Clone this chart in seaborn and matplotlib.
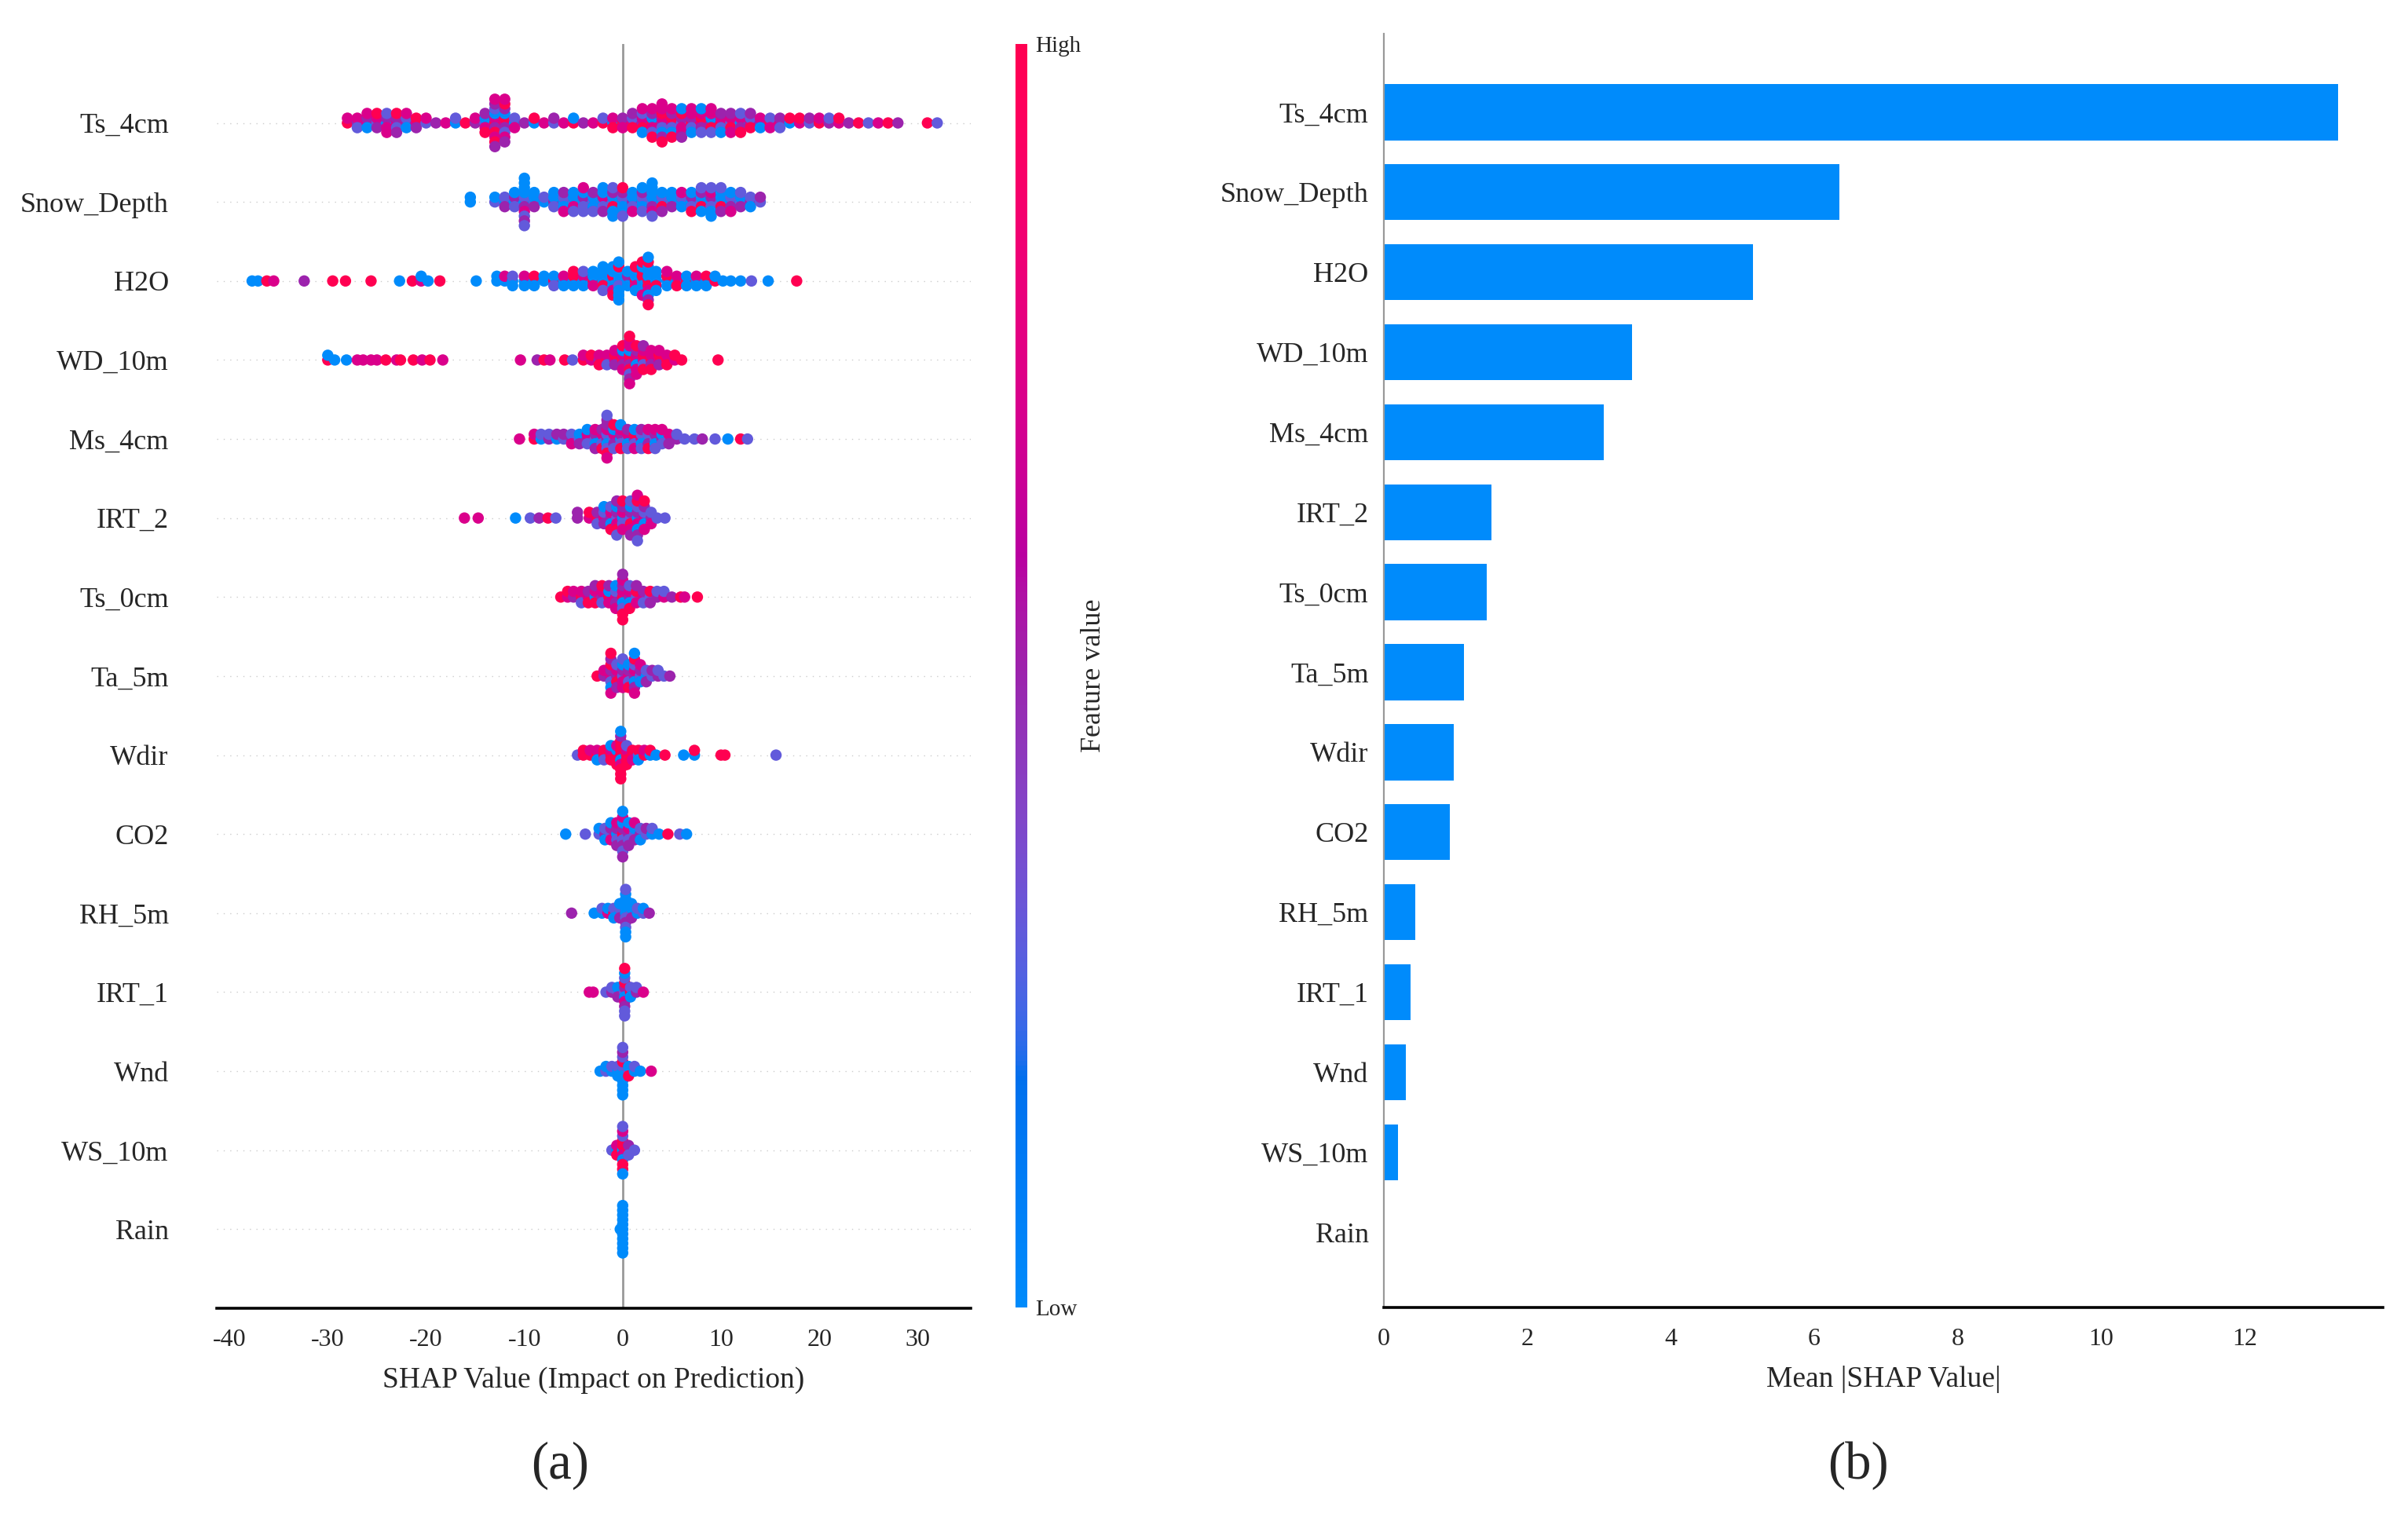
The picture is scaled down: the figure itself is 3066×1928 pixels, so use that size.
import numpy as np
import pandas as pd
import seaborn as sns
import matplotlib.pyplot as plt
from matplotlib.colors import LinearSegmentedColormap, Normalize
from matplotlib.cm import ScalarMappable


## Donnees

features = ["Ts_4cm", "Snow_Depth", "H2O", "WD_10m", "Ms_4cm", "IRT_2", "Ts_0cm",
            "Ta_5m", "Wdir", "CO2", "RH_5m", "IRT_1", "Wnd", "WS_10m", "Rain"]

mean_abs_shap = [13.31, 6.35, 5.15, 3.46, 3.07, 1.50, 1.43, 1.12, 0.97, 0.92,
                 0.44, 0.37, 0.31, 0.20, 0.01]

# beeswarm : (valeur SHAP, une lettre par point = niveau de la variable)
# b = bas, v = bas-moyen, p = moyen, m = moyen-haut, r = haut
ts_4cm = [(-28, "rm"), (-27, "pmv"), (-26, "mpbm"), (-25, "vmpr"), (-24, "bpmvm"),
          (-23, "mpvrp"), (-22, "pvbm"), (-21, "mrp"), (-20, "vm"), (-19, "p"),
          (-18, "m"), (-17, "bv"), (-16, "r"), (-15, "pm"), (-14, "vbmpr"),
          (-13, "rmpbrvmprmp"), (-12, "mrpbvpmrpm"), (-11, "bvm"), (-10, "p"),
          (-9, "br"), (-8, "m"), (-7, "vp"), (-6, "m"), (-5, "rb"), (-4, "p"),
          (-3, "m"), (-2, "rv"), (-1, "bmr"), (0, "rpm"), (1, "mvrp"), (2, "pmrvbm"),
          (3, "rbmpvmr"), (4, "pmvrbmpmr"), (5, "mrvpbmr"), (6, "vpmrmbp"),
          (7, "rpvmbm"), (8, "mrpmvb"), (9, "pbrmvm"), (10, "rmvpb"), (11, "vmrpm"),
          (12, "bmpvr"), (13, "mvrp"), (14, "pmb"), (15, "rvm"), (16, "mpv"),
          (17, "br"), (18, "mr"), (19, "vp"), (20, "rm"), (21, "pv"), (22, "mr"),
          (23, "p"), (24, "r"), (25, "v"), (26, "m"), (27, "r"), (28, "p"),
          (31, "r"), (32, "v")]

snow_depth = [(-15.5, "bb"), (-13, "vb"), (-12, "bvp"), (-11, "bpvb"),
              (-10, "bvpbmbvbpbv"), (-9, "vbpb"), (-8, "bv"), (-7, "pbvb"),
              (-6, "bvbpm"), (-5, "vbmbv"), (-4, "bpvbvm"), (-3, "vbbpv"),
              (-2, "bmvbpb"), (-1, "vbrpbvb"), (0, "bvbpbrv"), (1, "pbvbm"),
              (2, "bvbpvb"), (3, "vbpbmbvb"), (4, "bvrbp"), (5, "vbpb"), (6, "bvbm"),
              (7, "bpvbr"), (8, "vbrpbv"), (9, "bpvmbvb"), (10, "vbrbpv"),
              (11, "bvpbm"), (12, "vbpv"), (13, "pvb"), (14, "vp")]

h2o = [(-37.7, "b"), (-37.1, "b"), (-36.2, "r"), (-35.5, "m"), (-32.4, "p"),
       (-29.5, "r"), (-28.2, "r"), (-25.6, "r"), (-22.7, "b"), (-21.4, "r"),
       (-20.5, "mb"), (-19.8, "b"), (-18.6, "r"), (-14.9, "b"), (-12.8, "bb"),
       (-12, "bm"), (-11.2, "bvb"), (-10, "bmb"), (-9, "brb"), (-8, "bb"),
       (-7, "rbv"), (-6, "bmb"), (-5, "brbr"), (-4, "bmbv"), (-3, "rbmb"),
       (-2, "bbrbvb"), (-1, "brbbmbr"), (-0.4, "bbvbbrbbb"), (0.5, "bpbb"),
       (1.3, "rbmbbr"), (2, "brbrbbmr"), (2.6, "rbrbmbbrpbr"), (3.4, "bbrbb"),
       (4.5, "brbm"), (5.5, "bmr"), (6.5, "rbb"), (7.5, "bmb"), (8.5, "brb"),
       (9.4, "rb"), (10.2, "b"), (11, "b"), (12, "b"), (13.1, "v"), (14.8, "b"),
       (17.7, "r")]

wd_10m = [(-30, "rb"), (-29.3, "b"), (-28.1, "b"), (-27, "m"), (-26.4, "m"),
          (-25.6, "m"), (-25, "m"), (-24.1, "r"), (-23, "m"), (-22.6, "r"),
          (-21.3, "r"), (-20.4, "m"), (-19.6, "r"), (-18.3, "m"), (-10.4, "m"),
          (-8.7, "p"), (-8, "r"), (-7.4, "m"), (-5.9, "r"), (-5.1, "v"), (-4, "rm"),
          (-3.2, "mr"), (-2.4, "pmr"), (-1.6, "rmv"), (-0.8, "mrpm"), (0, "rmpbmr"),
          (0.7, "mrpbrmvmprm"), (1.4, "rmbpmrm"), (2.1, "mrvmrp"), (2.9, "rmpmr"),
          (3.7, "mrpm"), (4.5, "rmr"), (5.3, "mr"), (6, "r"), (9.7, "r")]

ms_4cm = [(-10.5, "m"), (-9, "rm"), (-8.3, "bv"), (-7.5, "pv"), (-6.7, "bp"),
          (-6, "vp"), (-5.2, "pvm"), (-4.4, "vbp"), (-3.6, "pmvb"), (-2.8, "vpbmp"),
          (-2.1, "bmvpr"), (-1.6, "pvbmvprpmv"), (-0.9, "vmpbvr"), (-0.2, "bpvmrb"),
          (0.5, "vmbpv"), (1.2, "prvbm"), (1.9, "mvbpv"), (2.6, "bvpmr"),
          (3.3, "vpbmv"), (4, "pbvm"), (4.7, "vmp"), (5.5, "pv"), (6.3, "v"),
          (7.3, "v"), (8.1, "p"), (9.4, "v"), (10.7, "b"), (12, "r"), (12.7, "v")]

irt_2 = [(-16.1, "m"), (-14.7, "m"), (-10.9, "b"), (-9.4, "v"), (-8.5, "p"),
         (-7.6, "r"), (-6.8, "v"), (-4.6, "pp"), (-3.4, "mr"), (-2.6, "rpv"),
         (-1.9, "mvpb"), (-1.2, "pmbvr"), (-0.6, "vpmbrpv"), (0, "bmvpmr"),
         (0.8, "vprbmvp"), (1.5, "bpmvbrpmv"), (2.2, "mvbpmr"), (2.9, "pvm"),
         (3.5, "v"), (4.3, "v")]

ts_0cm = [(-6.3, "r"), (-5.6, "mr"), (-5, "pm"), (-4.2, "rmv"), (-3.5, "mpr"),
          (-2.8, "bmrp"), (-2.1, "pmvr"), (-1.4, "rbmp"), (-0.7, "mvpbm"),
          (0, "rmbpvmrpr"), (0.7, "pmbvr"), (1.4, "vrmp"), (2.1, "mpv"), (2.8, "vrp"),
          (3.5, "pv"), (4.2, "mv"), (5, "p"), (5.9, "r"), (6.3, "m"), (7.6, "r")]

ta_5m = [(-2.6, "r"), (-1.9, "pm"), (-1.2, "mpvrbpmr"), (-0.6, "pmrvp"),
         (0, "vpmbmv"), (0.6, "mpvbr"), (1.2, "pmbvprmb"), (1.8, "vpbm"),
         (2.4, "bvp"), (3, "vp"), (3.6, "pv"), (4.2, "v"), (4.8, "p")]

wdir = [(-4.6, "v"), (-4, "rr"), (-3.3, "rm"), (-2.6, "rmb"), (-1.9, "rrv"),
        (-1.2, "rmrb"), (-0.6, "rbrmr"), (-0.2, "rrbrmrrprbr"), (0.4, "rmrvr"),
        (1, "rrm"), (1.6, "vrb"), (2.2, "rm"), (2.8, "br"), (3.4, "b"), (4.3, "r"),
        (6.2, "b"), (7.3, "br"), (10, "r"), (10.4, "r"), (15.6, "v")]

co2 = [(-5.8, "b"), (-3.8, "v"), (-2.4, "vb"), (-1.8, "pvb"), (-1.2, "vpmb"),
       (-0.6, "bpvmp"), (0, "rpvbpmvbp"), (0.6, "pmvbp"), (1.2, "vbpm"),
       (1.8, "pvb"), (2.4, "vp"), (3, "bv"), (3.7, "b"), (4.6, "r"), (5.8, "v"),
       (6.5, "b")]

rh_5m = [(-5.2, "p"), (-2.9, "b"), (-2.1, "bv"), (-1.5, "mb"), (-0.9, "rvb"),
         (-0.3, "bvpb"), (0.3, "bbvbpbvbbvb"), (0.9, "vbpb"), (1.5, "bv"),
         (2.1, "vb"), (2.7, "p")]

irt_1 = [(-3.4, "m"), (-3, "m"), (-1.7, "v"), (-1.1, "pv"), (-0.5, "vbp"),
         (0.2, "vpbrmvpbvrv"), (0.8, "rvb"), (1.4, "pv"), (2.1, "m")]

wnd = [(-2.3, "b"), (-1.7, "vb"), (-1.1, "bv"), (-0.5, "bvb"), (0, "bvbrbvbpbvb"),
       (0.6, "vbr"), (1.2, "bv"), (1.8, "b"), (2.9, "m")]

ws_10m = [(-1.1, "v"), (-0.6, "bmr"), (0, "brmrbvrmrvb"), (0.6, "rpv"), (1.2, "v")]

rain = [(-0.25, "b"), (0, "bbbbbbbbbbb")]

swarm = [ts_4cm, snow_depth, h2o, wd_10m, ms_4cm, irt_2, ts_0cm, ta_5m, wdir,
         co2, rh_5m, irt_1, wnd, ws_10m, rain]

code_value = {"b": 0.0, "v": 0.3, "p": 0.5, "m": 0.72, "r": 1.0}


## Palette rouge-bleu (interpolation LCH comme shap)

def lch_to_rgb(l, c, h):
    a, b = c * np.cos(h), c * np.sin(h)
    fy = (l + 16) / 116
    f = np.array([fy + a / 500, fy, fy - b / 200])
    d = 6 / 29
    t = np.where(f > d, f ** 3, 3 * d * d * (f - 4 / 29))
    xyz = t * np.array([0.95047, 1.0, 1.08883])
    m = np.array([[3.2406, -1.5372, -0.4986],
                  [-0.9689, 1.8758, 0.0415],
                  [0.0557, -0.2040, 1.0570]])
    rgb = m @ xyz
    rgb = np.where(rgb > 0.0031308, 1.055 * np.abs(rgb) ** (1 / 2.4) - 0.055, 12.92 * rgb)
    return np.clip(rgb, 0, 1)


l_vals = list(np.linspace(54, 40, 50)) + list(np.linspace(40, 54, 50))
c_vals = np.linspace(70, 90, 100)
h_vals = np.linspace(4.6588, 0.35470565 + 2 * np.pi, 100)
red_blue = LinearSegmentedColormap.from_list(
    "red_blue", [lch_to_rgb(l, c, h) for l, c, h in zip(l_vals, c_vals, h_vals)])
bar_color = lch_to_rgb(54, 70, 4.6588)


## Placement des points (empilement par classe, facon shap)

def beeswarm_offsets(x, row_height=0.4, nbins=100):
    x = np.asarray(x, float)
    span = x.max() - x.min()
    quant = np.round(nbins * (x - x.min()) / (span + 1e-8))
    order = np.argsort(quant, kind="stable")
    ys = np.zeros(len(x))
    layer, last = 0, None
    for i in order:
        if quant[i] != last:
            layer = 0
        ys[i] = np.ceil(layer / 2) * ((layer % 2) * 2 - 1)
        layer += 1
        last = quant[i]
    ys *= 0.9 * (row_height / np.max(ys + 1))
    return ys


parts = []
n = len(features)
for k, (name, pts) in enumerate(zip(features, swarm)):
    xs = [v for v, codes in pts for c in codes]
    fv = [code_value[c] for v, codes in pts for c in codes]
    parts.append(pd.DataFrame({"shap": xs, "y": (n - 1 - k) + beeswarm_offsets(xs),
                               "fv": fv, "feature": name}))
df = pd.concat(parts, ignore_index=True)


## Figure

sns.set_style("white")
plt.rcParams["font.family"] = ["Liberation Serif", "DejaVu Serif"]
plt.rcParams["axes.unicode_minus"] = False

fig = plt.figure(figsize=(15.33, 9.64), dpi=200)

## (a) beeswarm
ax1 = fig.add_axes([0.0900, 0.1359, 0.3131, 0.8351])
for pos in range(n):
    ax1.axhline(pos, color="#cccccc", lw=0.5, dashes=(1, 5), zorder=-1)
ax1.axvline(0, color="#999999", lw=1.0, zorder=-1)

sns.scatterplot(data=df, x="shap", y="y", hue="fv", palette=red_blue, hue_norm=(0, 1),
                s=27, linewidth=0, legend=False, ax=ax1, zorder=3)

ax1.set_xlim(-41.3, 35.4)
ax1.set_ylim(-1, n)
ax1.set_yticks(range(n))
ax1.set_yticklabels(features[::-1])
ax1.set_xticks(range(-40, 31, 10))
ax1.set_ylabel("")
ax1.set_xlabel("SHAP Value (Impact on Prediction)", fontsize=13.5, labelpad=7)
ax1.tick_params(axis="y", length=0, pad=22, labelsize=13)
ax1.tick_params(axis="x", length=4.3, width=0.7, pad=5, labelsize=11.5, color="black")
for side in ["top", "right", "left"]:
    ax1.spines[side].set_visible(False)
ax1.spines["bottom"].set_linewidth(1.3)
ax1.spines["bottom"].set_color("black")

cax = fig.add_axes([0.4217, 0.1364, 0.0049, 0.8346])
sm = ScalarMappable(norm=Normalize(0, 1), cmap=red_blue)
cb = fig.colorbar(sm, cax=cax, ticks=[0, 1])
cb.set_ticklabels(["Low", "High"])
cb.ax.tick_params(length=0, pad=3.6, labelsize=10.5)
cb.set_label("Feature value", size=13, labelpad=0)
cb.outline.set_visible(False)

## (b) importance moyenne
ax2 = fig.add_axes([0.5747, 0.1364, 0.4149, 0.8413])
sns.barplot(x=mean_abs_shap, y=features, orient="h", color=bar_color, saturation=1,
            width=0.7, linewidth=0, ax=ax2)
ax2.set_xlim(0, 13.93)
ax2.set_ylim(14.94, -0.98)
ax2.set_xticks(range(0, 13, 2))
ax2.set_ylabel("")
ax2.set_xlabel("Mean |SHAP Value|", fontsize=13.5, labelpad=7)
ax2.tick_params(axis="y", length=0, pad=7, labelsize=13)
ax2.tick_params(axis="x", length=4.3, width=0.7, pad=5, labelsize=11.5, color="black")
for side in ["top", "right"]:
    ax2.spines[side].set_visible(False)
ax2.spines["left"].set_color("#999999")
ax2.spines["left"].set_linewidth(0.8)
ax2.spines["bottom"].set_linewidth(1.3)
ax2.spines["bottom"].set_color("black")

fig.text(0.2325, 0.032, "(a)", fontsize=24, ha="center", va="center")
fig.text(0.7717, 0.032, "(b)", fontsize=24, ha="center", va="center")

plt.savefig("out.png", dpi=200)
